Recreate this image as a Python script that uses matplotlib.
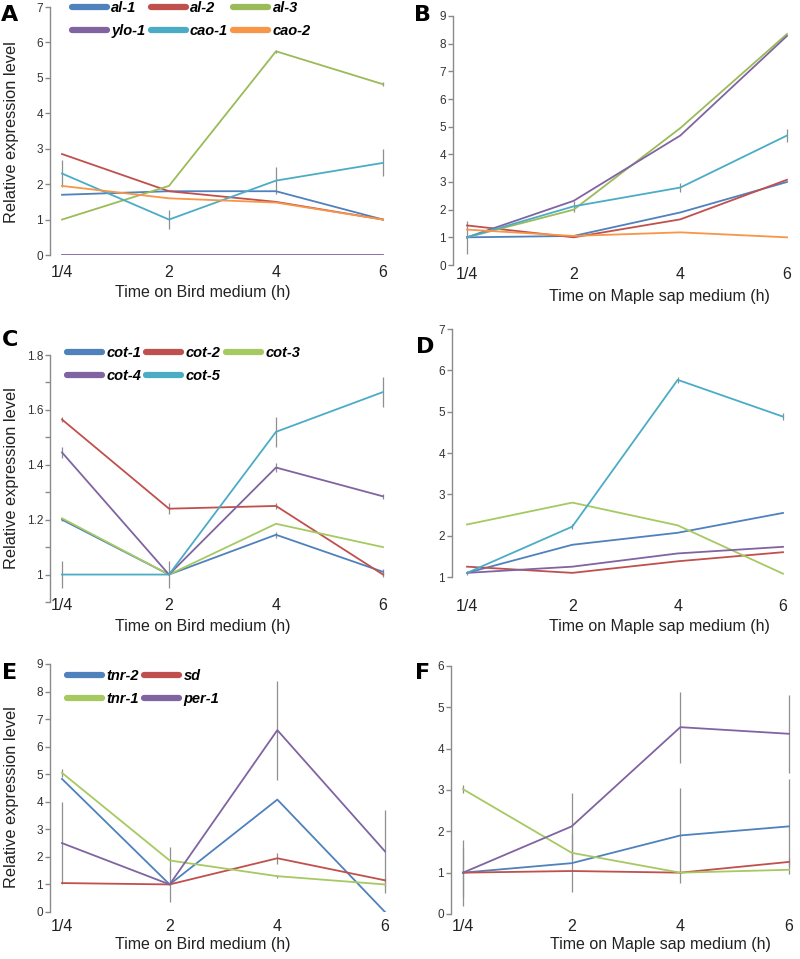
import matplotlib
matplotlib.use("Agg")
import matplotlib.pyplot as plt
import numpy as np

plt.rcParams['font.family'] = ['Liberation Sans', 'DejaVu Sans']

TIMES = ["1/4", "2", "4", "6"]

# Panel A: Bird medium, carotenoid genes
A_GENES = ["al-1", "al-2", "al-3", "ylo-1", "cao-1", "cao-2"]
A_VALUES = [
    [1.70, 1.80, 1.80, 1.00],
    [2.85, 1.80, 1.50, 1.00],
    [1.00, 1.95, 5.75, 4.82],
    [0.00, 0.00, 0.00, 0.00],
    [2.30, 1.00, 2.10, 2.60],
    [1.95, 1.60, 1.48, 1.00],
]
A_ERR = [
    [0, 0, 0, 0],
    [0, 0, 0, 0],
    [0, 0, 0.05, 0.05],
    [0, 0, 0, 0],
    [0.38, 0.28, 0.38, 0.38],
    [0, 0, 0, 0],
]

# Panel B: Maple sap medium, carotenoid genes
B_VALUES = [
    [1.00, 1.05, 1.90, 3.00],
    [1.43, 1.00, 1.65, 3.08],
    [1.00, 2.00, 4.95, 8.35],
    [1.00, 2.32, 4.68, 8.28],
    [1.00, 2.12, 2.80, 4.68],
    [1.28, 1.05, 1.18, 1.00],
]
B_ERR = [
    [0.6, 0, 0, 0],
    [0, 0, 0, 0],
    [0, 0, 0, 0],
    [0, 0, 0, 0],
    [0, 0.2, 0.15, 0.25],
    [0, 0, 0, 0],
]

# Panel C: Bird medium, cot genes
C_GENES = ["cot-1", "cot-2", "cot-3", "cot-4", "cot-5"]
C_VALUES = [
    [1.200, 1.000, 1.145, 1.010],
    [1.565, 1.240, 1.250, 1.000],
    [1.205, 1.000, 1.185, 1.100],
    [1.445, 1.000, 1.390, 1.285],
    [1.000, 1.000, 1.520, 1.665],
]
C_ERR = [
    [0.005, 0, 0.01, 0.01],
    [0.01, 0.02, 0.01, 0.01],
    [0, 0, 0, 0],
    [0.02, 0, 0.015, 0.01],
    [0.05, 0.05, 0.055, 0.055],
]
C_YTICKS = [0.9, 1.0, 1.1, 1.2, 1.3, 1.4, 1.5, 1.6, 1.7, 1.8]
C_YLABELS = ["", "1", "", "1.2", "", "1.4", "", "1.6", "", "1.8"]

# Panel D: Maple sap medium, cot genes
D_VALUES = [
    [1.10, 1.78, 2.07, 2.55],
    [1.25, 1.10, 1.38, 1.60],
    [2.27, 2.80, 2.25, 1.08],
    [1.10, 1.25, 1.57, 1.73],
    [1.10, 2.22, 5.77, 4.88],
]
D_ERR = [
    [0, 0, 0, 0],
    [0, 0, 0, 0],
    [0, 0, 0, 0],
    [0, 0, 0, 0],
    [0.05, 0.07, 0.08, 0.08],
]

# Panel E: Bird medium, other genes
E_GENES = ["tnr-2", "sd", "tnr-1", "per-1"]
E_VALUES = [
    [4.83, 1.00, 4.08, 0.00],
    [1.05, 1.00, 1.95, 1.15],
    [5.05, 1.87, 1.30, 1.00],
    [2.50, 1.00, 6.60, 2.20],
]
E_ERR = [
    [0, 0, 0, 0],
    [0, 0, 0.2, 0.1],
    [0.15, 0.5, 0.05, 0.05],
    [1.5, 0.65, 1.8, 1.5],
]

# Panel F: Maple sap medium, other genes
F_VALUES = [
    [1.00, 1.23, 1.90, 2.12],
    [1.00, 1.04, 1.00, 1.26],
    [3.02, 1.48, 1.00, 1.07],
    [1.00, 2.12, 4.52, 4.36],
]
F_ERR = [
    [0.8, 0.7, 1.15, 1.15],
    [0, 0, 0, 0.1],
    [0.1, 0, 0, 0],
    [0.6, 0.8, 0.86, 0.95],
]

COLORS6 = ["#4F81BD", "#C0504D", "#9BBB59", "#8064A2", "#4BACC6", "#F79646"]
COLORS5 = ["#4F81BD", "#C0504D", "#A6C962", "#8064A2", "#4BACC6"]
COLORS4 = ["#4F81BD", "#C0504D", "#A6C962", "#8064A2"]

W, H = 800, 959
fig = plt.figure(figsize=(W / 100, H / 100), dpi=100)


def panel(left, x0, x3, top, bottom, ylim, yticks, pad_px):
    """Axes whose left spine sits at pixel `left`, first/last category at x0/x3."""
    right = x3 + 6
    ax = fig.add_axes([left / W, 1 - bottom / H, (right - left) / W, (bottom - top) / H])
    unit = (x3 - x0) / 3.0
    ax.set_xlim((left - x0) / unit, (right - x0) / unit)
    ax.set_ylim(*ylim)
    for s in ["top", "right", "bottom"]:
        ax.spines[s].set_visible(False)
    ax.spines["left"].set_color("#8a8a8a")
    ax.spines["left"].set_linewidth(1.0)
    ax.set_xticks(range(len(TIMES)))
    ax.set_xticklabels(TIMES)
    ax.set_yticks(yticks)
    ax.tick_params(axis="x", length=0, labelsize=11.5, pad=pad_px * 0.72, colors="#222222")
    ax.tick_params(axis="y", length=3.5, width=1.0, color="#8a8a8a",
                   labelsize=8.5, pad=1.5, labelcolor="#333333")
    ax.patch.set_alpha(0)
    return ax


def draw(ax, values, errs, colors, labels=None):
    x = np.arange(len(TIMES))
    for vals, err, c in zip(values, errs, colors):
        ax.errorbar(x, vals, yerr=err, fmt="none", ecolor="#8f8f8f",
                    elinewidth=0.9, capsize=0, zorder=1)
    for i, (vals, c) in enumerate(zip(values, colors)):
        ax.plot(x, vals, color=c, lw=1.3, zorder=2,
                label=labels[i] if labels else None)


def legend(ax, xpx, ypx, ncol):
    handles, labels = ax.get_legend_handles_labels()
    n = len(handles)
    # matplotlib fills legend columns first; the figure reads row by row
    order = [i for c in range(ncol) for i in range(c, n, ncol)]
    leg = ax.legend([handles[i] for i in order], [labels[i] for i in order],
                    loc="upper left", bbox_to_anchor=(xpx / W, 1 - ypx / H),
                    bbox_transform=fig.transFigure, ncol=ncol, frameon=False,
                    prop={"weight": "bold", "style": "italic", "size": 10.5},
                    handlelength=2.4, handletextpad=0.3, columnspacing=0.35,
                    labelspacing=0.62, borderpad=0, borderaxespad=0)
    for h in leg.legend_handles:
        h.set_linewidth(4.5)
        h.set_solid_capstyle("round")
    return leg


def xlabel(text, xc, yc):
    fig.text(xc / W, 1 - yc / H, text, ha="center", va="center", fontsize=11.5, color="#222222")


def ylabel(xc, yc):
    fig.text(xc / W, 1 - yc / H, "Relative expression level", ha="center", va="center",
             rotation=90, fontsize=11.8, color="#222222")


def letter(text, xc, yc):
    fig.text(xc / W, 1 - yc / H, text, ha="center", va="center", fontsize=16,
             fontweight="heavy", family="DejaVu Sans")


# A
axA = panel(50, 62, 383, 7, 255, (0, 7), range(0, 8), 10)
draw(axA, A_VALUES, A_ERR, COLORS6, A_GENES)
legend(axA, 72, 1, 3)
xlabel("Time on Bird medium (h)", 203, 293)
ylabel(12, 132)
letter("A", 10, 15)

# B
axB = panel(453, 467, 787, 16, 265, (0, 9), range(0, 10), 2)
draw(axB, B_VALUES, B_ERR, COLORS6)
xlabel("Time on Maple sap medium (h)", 659, 297)
letter("B", 422, 15)

# C
axC = panel(50, 62, 383, 355, 602, (0.9, 1.8), C_YTICKS, -4)
axC.set_yticklabels(C_YLABELS)
draw(axC, C_VALUES, C_ERR, COLORS5, C_GENES)
legend(axC, 67, 346, 3)
xlabel("Time on Bird medium (h)", 203, 627)
ylabel(12, 478)
letter("C", 10, 340)

# D
axD = panel(452, 467, 783, 329, 577, (1, 7), range(1, 8), 22)
draw(axD, D_VALUES, D_ERR, COLORS5)
xlabel("Time on Maple sap medium (h)", 659, 627)
letter("D", 425, 347)

# E
axE = panel(50, 62, 385, 664, 912, (0, 9), range(0, 10), 7)
draw(axE, E_VALUES, E_ERR, COLORS4, E_GENES)
legend(axE, 67, 669, 2)
xlabel("Time on Bird medium (h)", 203, 945)
ylabel(12, 797)
letter("E", 10, 673)

# F
axF = panel(451, 463, 789, 666, 914, (0, 6), range(0, 7), 5)
draw(axF, F_VALUES, F_ERR, COLORS4)
xlabel("Time on Maple sap medium (h)", 660, 945)
letter("F", 423, 673)

fig.savefig("out.png", dpi=100)
